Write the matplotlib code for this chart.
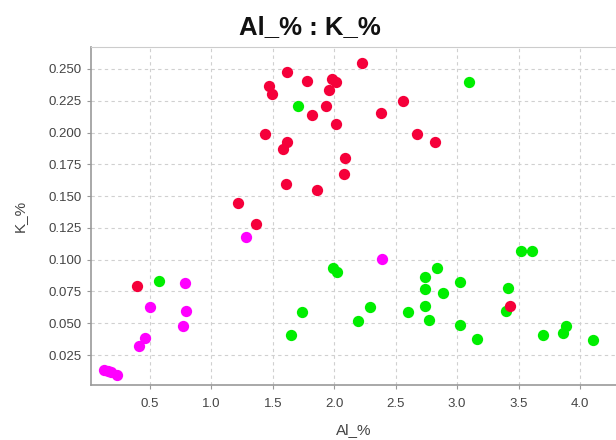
import matplotlib
matplotlib.use("Agg")
import matplotlib.pyplot as plt

# red group
red_x = [2.225, 1.615, 1.775, 1.978, 2.014, 1.471, 1.493, 1.954, 1.935, 1.821,
         2.014, 1.436, 1.618, 1.585, 2.090, 2.081, 1.604, 1.857, 1.216, 1.365,
         2.559, 2.377, 2.670, 2.822, 0.391, 3.427]
red_y = [0.2545, 0.2477, 0.2406, 0.2419, 0.2396, 0.2369, 0.2306, 0.2335, 0.2207, 0.2136,
         0.2068, 0.1987, 0.1929, 0.1869, 0.1798, 0.1674, 0.1598, 0.1546, 0.1446, 0.1278,
         0.2246, 0.2157, 0.1987, 0.1929, 0.0796, 0.0638]

# green group
green_x = [1.702, 3.096, 1.987, 2.024, 0.576, 1.737, 1.650, 2.190, 3.522, 3.612,
           2.839, 2.738, 3.020, 2.741, 3.411, 2.882, 2.290, 2.741, 3.395, 2.600,
           2.768, 3.025, 3.886, 3.864, 3.696, 3.164, 4.108]
green_y = [0.2207, 0.2396, 0.0937, 0.0906, 0.0835, 0.0586, 0.0408, 0.0518, 0.1066, 0.1066,
           0.0937, 0.0866, 0.0827, 0.0767, 0.0775, 0.0738, 0.0628, 0.0636, 0.0596, 0.0586,
           0.0526, 0.0486, 0.0476, 0.0426, 0.0408, 0.0379, 0.0368]

# magenta group
mag_x = [1.281, 2.391, 0.785, 0.503, 0.795, 0.771, 0.462, 0.413, 0.128, 0.160, 0.185, 0.228]
mag_y = [0.1181, 0.1006, 0.0819, 0.0625, 0.0599, 0.0476, 0.0386, 0.0319, 0.0132, 0.0128, 0.0114, 0.0096]

plt.rcParams['font.family'] = ['Liberation Sans', 'DejaVu Sans']

fig = plt.figure(figsize=(6.16, 4.4), dpi=100)
ax = fig.add_axes([91 / 616, 55 / 440, 525 / 616, 338 / 440])

ax.scatter(green_x, green_y, s=66, color='#00EE00', linewidths=0, zorder=3)
ax.scatter(red_x, red_y, s=66, color='#F5003A', linewidths=0, zorder=4)
ax.scatter(mag_x, mag_y, s=66, color='#FF00FF', linewidths=0, zorder=5)

ax.set_xlim(0.02, 4.293)
ax.set_ylim(0.0014, 0.2673)
ax.set_xticks([0.5, 1.0, 1.5, 2.0, 2.5, 3.0, 3.5, 4.0])
ax.set_yticks([0.025, 0.05, 0.075, 0.1, 0.125, 0.15, 0.175, 0.2, 0.225, 0.25])
ax.set_yticklabels(['%.3f' % v for v in ax.get_yticks()])

ax.grid(True, color='#d0d0d0', linestyle=(0, (3, 3)), linewidth=0.8)
ax.set_axisbelow(True)

ax.spines['left'].set_color('#999999')
ax.spines['bottom'].set_color('#999999')
ax.spines['left'].set_linewidth(1.2)
ax.spines['bottom'].set_linewidth(1.2)
ax.spines['top'].set_color('#cccccc')
ax.spines['right'].set_visible(False)
ax.tick_params(colors='#999999', labelcolor='#444444', labelsize=9.5, length=3, width=0.8)
ax.tick_params(axis='x', pad=6)

ax.set_xlabel('Al_%', fontsize=11, color='#444444', labelpad=10)
ax.set_ylabel('K_%', fontsize=11, color='#444444', labelpad=16)
fig.suptitle('Al_% : K_%', x=310 / 616, y=1 - 27 / 440, va='center',
             fontsize=18.5, fontweight='bold', color='#111111')

fig.savefig('out.png', dpi=100)
